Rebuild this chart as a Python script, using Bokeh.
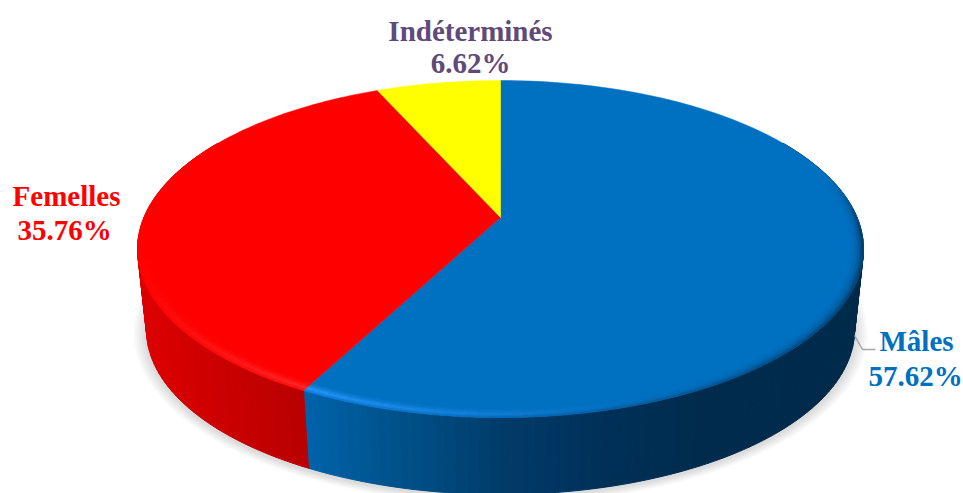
import numpy as np
from bokeh.core.properties import value
from bokeh.embed import file_html
from bokeh.models import ColumnDataSource, Range1d
from bokeh.plotting import figure
from bokeh.resources import INLINE

# Data
categories = ["Mâles", "Femelles", "Indéterminés"]
shares = [57.62, 35.76, 6.62]
share_labels = ["57.62%", "35.76%", "6.62%"]

# Styles
top_colors = ["#0070c0", "#ff0000", "#ffff00"]
text_colors = ["#0070c0", "#ff0000", "#604a7b"]
glow_colors = ["#2a97ff", "#ff3030", "#ffff00"]
side_stops = [
    ([309, 380, 500, 600, 700, 855],
     ["#0062aa", "#00558f", "#003c6a", "#003058", "#002b4d", "#002a4a"]),
    ([146, 309], ["#dc0000", "#b80000"]),
    ([400, 500], ["#c0c000", "#c0c000"]),
]
label_x1 = [916, 66, 470]
label_x2 = [915, 64, 470]
label_y1 = [340, 195, 30]
label_y2 = [375, 229, 62]

# Projection of the disc, in page pixels
CX, CY, A, B, K = 500.0, 217.0, 356.6, 162.6, 0.187
LOW_S, LOW_Y = 0.975, 299.0


def proj(theta_deg, r=1.0, low=False, grow=0.0):
    t = np.radians(theta_deg)
    u, v = r * np.sin(t), r * np.cos(t)
    w = 1 + K * v
    x, y = CX + A * u / w, CY - B * v / w
    if low:
        s = LOW_S + grow
        return CX + s * (x - CX), LOW_Y + s * (y - CY)
    return x, y


def rgb(h):
    return np.array([int(h[i:i + 2], 16) for i in (1, 3, 5)], dtype=float)


def tohex(c):
    return "#%02x%02x%02x" % tuple(int(round(max(0, min(255, q)))) for q in c)


def mix(a, b, t):
    return a + (b - a) * t


def side_color(i, x):
    xs, cols = side_stops[i]
    arr = np.array([rgb(c) for c in cols])
    return np.array([np.interp(x, xs, arr[:, j]) for j in range(3)])


edges = np.concatenate([[0], np.cumsum(shares)]) * 3.6


def slice_of(theta):
    return int(np.clip(np.searchsorted(edges, theta % 360, side="right") - 1, 0, 2))


p = figure(width=963, height=493, output_backend="svg", toolbar_location=None,
           x_range=Range1d(0, 963), y_range=Range1d(493, 0),
           min_border=0, outline_line_color=None, background_fill_color="white",
           border_fill_color="white")
p.axis.visible = False
p.grid.visible = False

# Soft shadow
all_t = np.linspace(0, 360, 241)
for grow in [0.035, 0.028, 0.021, 0.014, 0.007]:
    sx, sy = proj(all_t, low=True, grow=grow)
    p.patch(sx, sy + 2, fill_color="black", fill_alpha=0.028, line_color=None)

# Side wall, strip by strip
sx, sy, sc = [], [], []
seq = np.arange(60, 300.01, 1.5)
splits = sorted(set(seq.tolist()) | set(e for e in edges.tolist() if 60 < e < 300))
for t0, t1 in zip(splits[:-1], splits[1:]):
    x0, y0 = proj(t0)
    x1, y1 = proj(t1)
    x2, y2 = proj(t1, low=True)
    x3, y3 = proj(t0, low=True)
    i = slice_of((t0 + t1) / 2)
    sx.append([x0, x1, x2, x3])
    sy.append([y0, y1, y2, y3])
    sc.append(tohex(side_color(i, (x0 + x1 + x2 + x3) / 4)))
p.patches("x", "y", source=ColumnDataSource(dict(x=sx, y=sy, c=sc)),
          fill_color="c", line_color="c", line_width=1)

# Top surface wedges
for i in range(3):
    t = np.linspace(edges[i], edges[i + 1], 120)
    x, y = proj(t)
    p.patch(np.r_[CX, x], np.r_[CY, y], fill_color=top_colors[i],
            line_color=top_colors[i], line_width=0.5)

# Bevel along the front rim
radii = [0.966, 0.975, 0.983, 0.990, 0.995, 1.0]
glow_w = [0.2, 0.55, 0.9, 0.8, 0.45]
edge_w = [0.03, 0.12, 0.28, 0.5, 0.75]
bx, by, bc = [], [], []
rim = [t for t in zip(splits[:-1], splits[1:]) if 75 <= (t[0] + t[1]) / 2 <= 262]
for t0, t1 in rim:
    mid = (t0 + t1) / 2
    i = slice_of(mid)
    if i == 0:
        h = np.interp(mid, [140, 165, 185, 207.4], [0.0, 0.2, 0.55, 1.0])
        d = np.interp(mid, [75, 95, 207.4], [0.0, 1.0, 0.0])
    else:
        h = np.interp(mid, [207.4, 225, 245, 262], [0.9, 0.5, 0.15, 0.0])
        d = 0.0
    base = rgb(top_colors[i])
    glow = rgb(glow_colors[i])
    xm, _ = proj(mid, low=True)
    wall = side_color(i, xm)
    for j in range(5):
        x0, y0 = proj(t0, radii[j])
        x1, y1 = proj(t1, radii[j])
        x2, y2 = proj(t1, radii[j + 1])
        x3, y3 = proj(t0, radii[j + 1])
        c = mix(base, glow, h * glow_w[j])
        c = mix(c, wall, d * edge_w[j])
        bx.append([x0, x1, x2, x3])
        by.append([y0, y1, y2, y3])
        bc.append(tohex(c))
p.patches("x", "y", source=ColumnDataSource(dict(x=bx, y=by, c=bc)),
          fill_color="c", line_color="c", line_width=0.5)

# Leader line for the first label
p.line([854, 862, 875], [335, 349, 349], line_color="#a6a6a6", line_width=1.5)

# Labels
font = value("Liberation Serif")
src = ColumnDataSource(dict(x=label_x1 + label_x2, y=label_y1 + label_y2,
                            t=categories + share_labels, c=text_colors + text_colors))
p.text("x", "y", text="t", source=src, text_color="c", text_font=font,
       text_font_style="bold", text_font_size="29px",
       text_align="center", text_baseline="alphabetic")

open("out.html", "w").write(file_html(p, INLINE))
